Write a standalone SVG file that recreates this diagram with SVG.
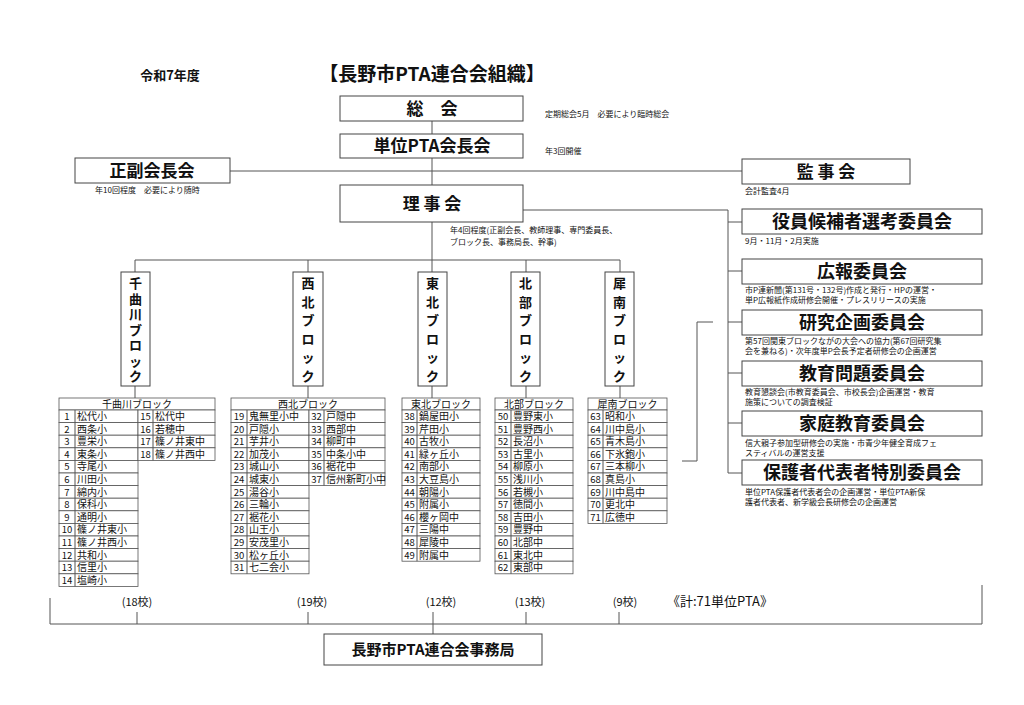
<svg xmlns="http://www.w3.org/2000/svg" width="1024" height="705" viewBox="0 0 1024 705">
<style>
text{font-family:"Noto Sans CJK JP","Liberation Sans",sans-serif;fill:#111}
.box{fill:#fff;stroke:#444;stroke-width:1}
.c{fill:none;stroke:#555;stroke-width:1}
.t{fill:#fff;stroke:#555;stroke-width:0.8}
.b{font-weight:bold;text-anchor:middle}
.n{font-size:8px}
.tt{font-size:10px}
.tn{font-size:9.5px;text-anchor:middle}
.th{font-size:10px;text-anchor:middle}
.v{font-size:13px;font-weight:bold;text-anchor:middle}
</style>
<rect width="1024" height="705" fill="#fff"/>
<text x="170" y="80" font-size="13" class="b">令和7年度</text>
<text x="432" y="81" font-size="19" class="b">【長野市PTA連合会組織】</text>

<g id="connectors">
<path class="c" d="M432 121V134M432 158V185M432 222V260M230 171H742M523 210H728M728 210V473M728 222H742M728 271H742M728 322H742M728 373H742M728 423H742M728 473H742"/>
<path class="c" d="M135 260H620M135 260V272M308 260V272M432 260V272M526 260V272M620 260V272M135 386V398M308 386V398M432 386V398M526 386V398M620 386V398"/>
<path class="c" d="M713 322H697V461H682"/>
<path class="c" d="M50 598V624H982V585M137 612V624M308 612V624M433 612V624M526 612V624M619 612V624M433 624V634"/>
</g>

<g id="soukai"><rect class="box" x="340" y="96" width="183" height="25"/><text x="432" y="115" font-size="17" class="b">総　会</text><text x="545" y="117" class="n">定期総会5月　必要により臨時総会</text></g>
<g id="tanni"><rect class="box" x="340" y="134" width="183" height="24"/><text x="432" y="152" font-size="17" class="b">単位PTA会長会</text><text x="545" y="154" class="n">年3回開催</text></g>
<g id="seifuku"><rect class="box" x="75" y="158" width="155" height="25"/><text x="152" y="177" font-size="17" class="b">正副会長会</text><text x="95" y="193" class="n">年10回程度　必要により随時</text></g>
<g id="kanji"><rect class="box" x="742" y="159" width="168" height="25"/><text x="826" y="178" font-size="17" class="b">監 事 会</text><text x="745" y="194" class="n">会計監査4月</text></g>
<g id="rijikai"><rect class="box" x="340" y="185" width="183" height="37"/><text x="432" y="210" font-size="17" class="b">理 事 会</text><text x="450" y="233" class="n">年4回程度(正副会長、教師理事、専門委員長、</text><text x="450" y="245" class="n">ブロック長、事務局長、幹事)</text></g>

<g id="yakuin"><rect class="box" x="742" y="209" width="240" height="25"/><text x="862" y="228" font-size="18" class="b">役員候補者選考委員会</text><text x="745" y="244" class="n">9月・11月・2月実施</text></g>
<g id="kouhou"><rect class="box" x="742" y="259" width="240" height="25"/><text x="862" y="278" font-size="18" class="b">広報委員会</text><text x="745" y="293" class="n">市P連新聞(第131号・132号)作成と発行・HPの運営・</text><text x="745" y="303" class="n">単P広報紙作成研修会開催・プレスリリースの実施</text></g>
<g id="kenkyu"><rect class="box" x="742" y="310" width="240" height="25"/><text x="862" y="329" font-size="18" class="b">研究企画委員会</text><text x="745" y="344" class="n">第57回関東ブロックながの大会への協力(第67回研究集</text><text x="745" y="354" class="n">会を兼ねる)・次年度単P会長予定者研修会の企画運営</text></g>
<g id="kyouiku"><rect class="box" x="742" y="361" width="240" height="25"/><text x="862" y="380" font-size="18" class="b">教育問題委員会</text><text x="745" y="395" class="n">教育懇談会(市教育委員会、市校長会)企画運営・教育</text><text x="745" y="405" class="n">施策についての調査検証</text></g>
<g id="katei"><rect class="box" x="742" y="411" width="240" height="25"/><text x="862" y="430" font-size="18" class="b">家庭教育委員会</text><text x="745" y="446" class="n">信大親子参加型研修会の実施・市青少年健全育成フェ</text><text x="745" y="456" class="n">スティバルの運営支援</text></g>
<g id="hogosha"><rect class="box" x="742" y="460" width="240" height="25"/><text x="862" y="479" font-size="18" class="b">保護者代表者特別委員会</text><text x="745" y="495" class="n">単位PTA保護者代表者会の企画運営・単位PTA新保</text><text x="745" y="505" class="n">護者代表者、新学級会長研修会の企画運営</text></g>

<g id="blk-chikuma"><rect class="box" x="121" y="272" width="29" height="114"/>
<text x="135.5" y="288" class="v">千</text><text x="135.5" y="303.5" class="v">曲</text><text x="135.5" y="319" class="v">川</text><text x="135.5" y="334.5" class="v">ブ</text><text x="135.5" y="350" class="v">ロ</text><text x="135.5" y="365.5" class="v">ッ</text><text x="135.5" y="381" class="v">ク</text></g>
<g id="blk-seihoku"><rect class="box" x="293" y="272" width="30" height="114"/>
<text x="308" y="288" class="v">西</text><text x="308" y="306.5" class="v">北</text><text x="308" y="325" class="v">ブ</text><text x="308" y="343.5" class="v">ロ</text><text x="308" y="362" class="v">ッ</text><text x="308" y="380.5" class="v">ク</text></g>
<g id="blk-touhoku"><rect class="box" x="418" y="272" width="29" height="114"/>
<text x="432.5" y="288" class="v">東</text><text x="432.5" y="306.5" class="v">北</text><text x="432.5" y="325" class="v">ブ</text><text x="432.5" y="343.5" class="v">ロ</text><text x="432.5" y="362" class="v">ッ</text><text x="432.5" y="380.5" class="v">ク</text></g>
<g id="blk-hokubu"><rect class="box" x="511" y="272" width="29" height="114"/>
<text x="525.5" y="288" class="v">北</text><text x="525.5" y="306.5" class="v">部</text><text x="525.5" y="325" class="v">ブ</text><text x="525.5" y="343.5" class="v">ロ</text><text x="525.5" y="362" class="v">ッ</text><text x="525.5" y="380.5" class="v">ク</text></g>
<g id="blk-sainan"><rect class="box" x="605" y="272" width="29" height="114"/>
<text x="619.5" y="288" class="v">犀</text><text x="619.5" y="306.5" class="v">南</text><text x="619.5" y="325" class="v">ブ</text><text x="619.5" y="343.5" class="v">ロ</text><text x="619.5" y="362" class="v">ッ</text><text x="619.5" y="380.5" class="v">ク</text></g>

<g id="tbl-chikuma">
<rect class="t" x="59" y="398" width="156" height="12"/><text x="137" y="407.5" class="th">千曲川ブロック</text>
<rect class="t" x="59" y="410" width="79" height="12.6"/><rect class="t" x="59" y="422.6" width="79" height="12.6"/><rect class="t" x="59" y="435.2" width="79" height="12.6"/><rect class="t" x="59" y="447.8" width="79" height="12.6"/><rect class="t" x="59" y="460.4" width="79" height="12.6"/><rect class="t" x="59" y="473" width="79" height="12.6"/><rect class="t" x="59" y="485.6" width="79" height="12.6"/><rect class="t" x="59" y="498.2" width="79" height="12.6"/><rect class="t" x="59" y="510.8" width="79" height="12.6"/><rect class="t" x="59" y="523.4" width="79" height="12.6"/><rect class="t" x="59" y="536" width="79" height="12.6"/><rect class="t" x="59" y="548.6" width="79" height="12.6"/><rect class="t" x="59" y="561.2" width="79" height="12.6"/><rect class="t" x="59" y="573.8" width="79" height="12.6"/>
<rect class="t" x="138" y="410" width="77" height="12.6"/><rect class="t" x="138" y="422.6" width="77" height="12.6"/><rect class="t" x="138" y="435.2" width="77" height="12.6"/><rect class="t" x="138" y="447.8" width="77" height="12.6"/>
<path class="c" stroke-width="0.8" d="M75 410V586.4M153 410V460.4"/>
<text class="tn" x="67" y="420">1</text><text class="tt" x="77" y="420">松代小</text>
<text class="tn" x="67" y="432.6">2</text><text class="tt" x="77" y="432.6">西条小</text>
<text class="tn" x="67" y="445.2">3</text><text class="tt" x="77" y="445.2">豊栄小</text>
<text class="tn" x="67" y="457.8">4</text><text class="tt" x="77" y="457.8">東条小</text>
<text class="tn" x="67" y="470.4">5</text><text class="tt" x="77" y="470.4">寺尾小</text>
<text class="tn" x="67" y="483">6</text><text class="tt" x="77" y="483">川田小</text>
<text class="tn" x="67" y="495.6">7</text><text class="tt" x="77" y="495.6">綿内小</text>
<text class="tn" x="67" y="508.2">8</text><text class="tt" x="77" y="508.2">保科小</text>
<text class="tn" x="67" y="520.8">9</text><text class="tt" x="77" y="520.8">通明小</text>
<text class="tn" x="67" y="533.4">10</text><text class="tt" x="77" y="533.4">篠ノ井東小</text>
<text class="tn" x="67" y="546">11</text><text class="tt" x="77" y="546">篠ノ井西小</text>
<text class="tn" x="67" y="558.6">12</text><text class="tt" x="77" y="558.6">共和小</text>
<text class="tn" x="67" y="571.2">13</text><text class="tt" x="77" y="571.2">信里小</text>
<text class="tn" x="67" y="583.8">14</text><text class="tt" x="77" y="583.8">塩崎小</text>
<text class="tn" x="145.5" y="420">15</text><text class="tt" x="155" y="420">松代中</text>
<text class="tn" x="145.5" y="432.6">16</text><text class="tt" x="155" y="432.6">若穂中</text>
<text class="tn" x="145.5" y="445.2">17</text><text class="tt" x="155" y="445.2">篠ノ井東中</text>
<text class="tn" x="145.5" y="457.8">18</text><text class="tt" x="155" y="457.8">篠ノ井西中</text>
</g>

<g id="tbl-seihoku">
<rect class="t" x="231" y="398" width="154" height="12"/><text x="308" y="407.5" class="th">西北ブロック</text>
<rect class="t" x="231" y="410" width="78" height="12.6"/><rect class="t" x="231" y="422.6" width="78" height="12.6"/><rect class="t" x="231" y="435.2" width="78" height="12.6"/><rect class="t" x="231" y="447.8" width="78" height="12.6"/><rect class="t" x="231" y="460.4" width="78" height="12.6"/><rect class="t" x="231" y="473" width="78" height="12.6"/><rect class="t" x="231" y="485.6" width="78" height="12.6"/><rect class="t" x="231" y="498.2" width="78" height="12.6"/><rect class="t" x="231" y="510.8" width="78" height="12.6"/><rect class="t" x="231" y="523.4" width="78" height="12.6"/><rect class="t" x="231" y="536" width="78" height="12.6"/><rect class="t" x="231" y="548.6" width="78" height="12.6"/><rect class="t" x="231" y="561.2" width="78" height="12.6"/>
<rect class="t" x="309" y="410" width="76" height="12.6"/><rect class="t" x="309" y="422.6" width="76" height="12.6"/><rect class="t" x="309" y="435.2" width="76" height="12.6"/><rect class="t" x="309" y="447.8" width="76" height="12.6"/><rect class="t" x="309" y="460.4" width="76" height="12.6"/><rect class="t" x="309" y="473" width="76" height="12.6"/>
<path class="c" stroke-width="0.8" d="M247 410V573.8M324 410V485.6"/>
<text class="tn" x="239" y="420">19</text><text class="tt" x="249" y="420">鬼無里小中</text>
<text class="tn" x="239" y="432.6">20</text><text class="tt" x="249" y="432.6">戸隠小</text>
<text class="tn" x="239" y="445.2">21</text><text class="tt" x="249" y="445.2">芋井小</text>
<text class="tn" x="239" y="457.8">22</text><text class="tt" x="249" y="457.8">加茂小</text>
<text class="tn" x="239" y="470.4">23</text><text class="tt" x="249" y="470.4">城山小</text>
<text class="tn" x="239" y="483">24</text><text class="tt" x="249" y="483">城東小</text>
<text class="tn" x="239" y="495.6">25</text><text class="tt" x="249" y="495.6">湯谷小</text>
<text class="tn" x="239" y="508.2">26</text><text class="tt" x="249" y="508.2">三輪小</text>
<text class="tn" x="239" y="520.8">27</text><text class="tt" x="249" y="520.8">裾花小</text>
<text class="tn" x="239" y="533.4">28</text><text class="tt" x="249" y="533.4">山王小</text>
<text class="tn" x="239" y="546">29</text><text class="tt" x="249" y="546">安茂里小</text>
<text class="tn" x="239" y="558.6">30</text><text class="tt" x="249" y="558.6">松ヶ丘小</text>
<text class="tn" x="239" y="571.2">31</text><text class="tt" x="249" y="571.2">七二会小</text>
<text class="tn" x="316.5" y="420">32</text><text class="tt" x="326" y="420">戸隠中</text>
<text class="tn" x="316.5" y="432.6">33</text><text class="tt" x="326" y="432.6">西部中</text>
<text class="tn" x="316.5" y="445.2">34</text><text class="tt" x="326" y="445.2">柳町中</text>
<text class="tn" x="316.5" y="457.8">35</text><text class="tt" x="326" y="457.8">中条小中</text>
<text class="tn" x="316.5" y="470.4">36</text><text class="tt" x="326" y="470.4">裾花中</text>
<text class="tn" x="316.5" y="483">37</text><text class="tt" x="326" y="482.5" font-size="8.5">信州新町小中</text>
</g>

<g id="tbl-touhoku">
<rect class="t" x="402" y="398" width="78" height="12"/><text x="441" y="407.5" class="th">東北ブロック</text>
<rect class="t" x="402" y="410" width="78" height="12.6"/><rect class="t" x="402" y="422.6" width="78" height="12.6"/><rect class="t" x="402" y="435.2" width="78" height="12.6"/><rect class="t" x="402" y="447.8" width="78" height="12.6"/><rect class="t" x="402" y="460.4" width="78" height="12.6"/><rect class="t" x="402" y="473" width="78" height="12.6"/><rect class="t" x="402" y="485.6" width="78" height="12.6"/><rect class="t" x="402" y="498.2" width="78" height="12.6"/><rect class="t" x="402" y="510.8" width="78" height="12.6"/><rect class="t" x="402" y="523.4" width="78" height="12.6"/><rect class="t" x="402" y="536" width="78" height="12.6"/><rect class="t" x="402" y="548.6" width="78" height="12.6"/>
<path class="c" stroke-width="0.8" d="M417 410V561.2"/>
<text class="tn" x="409.5" y="420">38</text><text class="tt" x="419" y="420">鍋屋田小</text>
<text class="tn" x="409.5" y="432.6">39</text><text class="tt" x="419" y="432.6">芹田小</text>
<text class="tn" x="409.5" y="445.2">40</text><text class="tt" x="419" y="445.2">古牧小</text>
<text class="tn" x="409.5" y="457.8">41</text><text class="tt" x="419" y="457.8">緑ヶ丘小</text>
<text class="tn" x="409.5" y="470.4">42</text><text class="tt" x="419" y="470.4">南部小</text>
<text class="tn" x="409.5" y="483">43</text><text class="tt" x="419" y="483">大豆島小</text>
<text class="tn" x="409.5" y="495.6">44</text><text class="tt" x="419" y="495.6">朝陽小</text>
<text class="tn" x="409.5" y="508.2">45</text><text class="tt" x="419" y="508.2">附属小</text>
<text class="tn" x="409.5" y="520.8">46</text><text class="tt" x="419" y="520.8">櫻ヶ岡中</text>
<text class="tn" x="409.5" y="533.4">47</text><text class="tt" x="419" y="533.4">三陽中</text>
<text class="tn" x="409.5" y="546">48</text><text class="tt" x="419" y="546">犀陵中</text>
<text class="tn" x="409.5" y="558.6">49</text><text class="tt" x="419" y="558.6">附属中</text>
</g>

<g id="tbl-hokubu">
<rect class="t" x="495" y="398" width="78" height="12"/><text x="534" y="407.5" class="th">北部ブロック</text>
<rect class="t" x="495" y="410" width="78" height="12.6"/><rect class="t" x="495" y="422.6" width="78" height="12.6"/><rect class="t" x="495" y="435.2" width="78" height="12.6"/><rect class="t" x="495" y="447.8" width="78" height="12.6"/><rect class="t" x="495" y="460.4" width="78" height="12.6"/><rect class="t" x="495" y="473" width="78" height="12.6"/><rect class="t" x="495" y="485.6" width="78" height="12.6"/><rect class="t" x="495" y="498.2" width="78" height="12.6"/><rect class="t" x="495" y="510.8" width="78" height="12.6"/><rect class="t" x="495" y="523.4" width="78" height="12.6"/><rect class="t" x="495" y="536" width="78" height="12.6"/><rect class="t" x="495" y="548.6" width="78" height="12.6"/><rect class="t" x="495" y="561.2" width="78" height="12.6"/>
<path class="c" stroke-width="0.8" d="M511 410V573.8"/>
<text class="tn" x="503" y="420">50</text><text class="tt" x="513" y="420">豊野東小</text>
<text class="tn" x="503" y="432.6">51</text><text class="tt" x="513" y="432.6">豊野西小</text>
<text class="tn" x="503" y="445.2">52</text><text class="tt" x="513" y="445.2">長沼小</text>
<text class="tn" x="503" y="457.8">53</text><text class="tt" x="513" y="457.8">古里小</text>
<text class="tn" x="503" y="470.4">54</text><text class="tt" x="513" y="470.4">柳原小</text>
<text class="tn" x="503" y="483">55</text><text class="tt" x="513" y="483">浅川小</text>
<text class="tn" x="503" y="495.6">56</text><text class="tt" x="513" y="495.6">若槻小</text>
<text class="tn" x="503" y="508.2">57</text><text class="tt" x="513" y="508.2">徳間小</text>
<text class="tn" x="503" y="520.8">58</text><text class="tt" x="513" y="520.8">吉田小</text>
<text class="tn" x="503" y="533.4">59</text><text class="tt" x="513" y="533.4">豊野中</text>
<text class="tn" x="503" y="546">60</text><text class="tt" x="513" y="546">北部中</text>
<text class="tn" x="503" y="558.6">61</text><text class="tt" x="513" y="558.6">東北中</text>
<text class="tn" x="503" y="571.2">62</text><text class="tt" x="513" y="571.2">東部中</text>
</g>

<g id="tbl-sainan">
<rect class="t" x="588" y="398" width="79" height="12"/><text x="627.5" y="407.5" class="th">犀南ブロック</text>
<rect class="t" x="588" y="410" width="79" height="12.6"/><rect class="t" x="588" y="422.6" width="79" height="12.6"/><rect class="t" x="588" y="435.2" width="79" height="12.6"/><rect class="t" x="588" y="447.8" width="79" height="12.6"/><rect class="t" x="588" y="460.4" width="79" height="12.6"/><rect class="t" x="588" y="473" width="79" height="12.6"/><rect class="t" x="588" y="485.6" width="79" height="12.6"/><rect class="t" x="588" y="498.2" width="79" height="12.6"/><rect class="t" x="588" y="510.8" width="79" height="12.6"/>
<path class="c" stroke-width="0.8" d="M603 410V523.4"/>
<text class="tn" x="595.5" y="420">63</text><text class="tt" x="605" y="420">昭和小</text>
<text class="tn" x="595.5" y="432.6">64</text><text class="tt" x="605" y="432.6">川中島小</text>
<text class="tn" x="595.5" y="445.2">65</text><text class="tt" x="605" y="445.2">青木島小</text>
<text class="tn" x="595.5" y="457.8">66</text><text class="tt" x="605" y="457.8">下氷鉋小</text>
<text class="tn" x="595.5" y="470.4">67</text><text class="tt" x="605" y="470.4">三本柳小</text>
<text class="tn" x="595.5" y="483">68</text><text class="tt" x="605" y="483">真島小</text>
<text class="tn" x="595.5" y="495.6">69</text><text class="tt" x="605" y="495.6">川中島中</text>
<text class="tn" x="595.5" y="508.2">70</text><text class="tt" x="605" y="508.2">更北中</text>
<text class="tn" x="595.5" y="520.8">71</text><text class="tt" x="605" y="520.8">広徳中</text>
</g>

<g id="counts" font-size="11">
<text x="137" y="606" text-anchor="middle">(18校)</text>
<text x="312" y="606" text-anchor="middle">(19校)</text>
<text x="441" y="606" text-anchor="middle">(12校)</text>
<text x="530" y="606" text-anchor="middle">(13校)</text>
<text x="625" y="606" text-anchor="middle">(9校)</text>
<text x="720" y="606" text-anchor="middle" font-size="13">《計:71単位PTA》</text>
</g>
<g id="jimukyoku"><rect class="box" x="324" y="634" width="218" height="31"/><text x="433" y="655" font-size="15" class="b">長野市PTA連合会事務局</text></g>
</svg>
